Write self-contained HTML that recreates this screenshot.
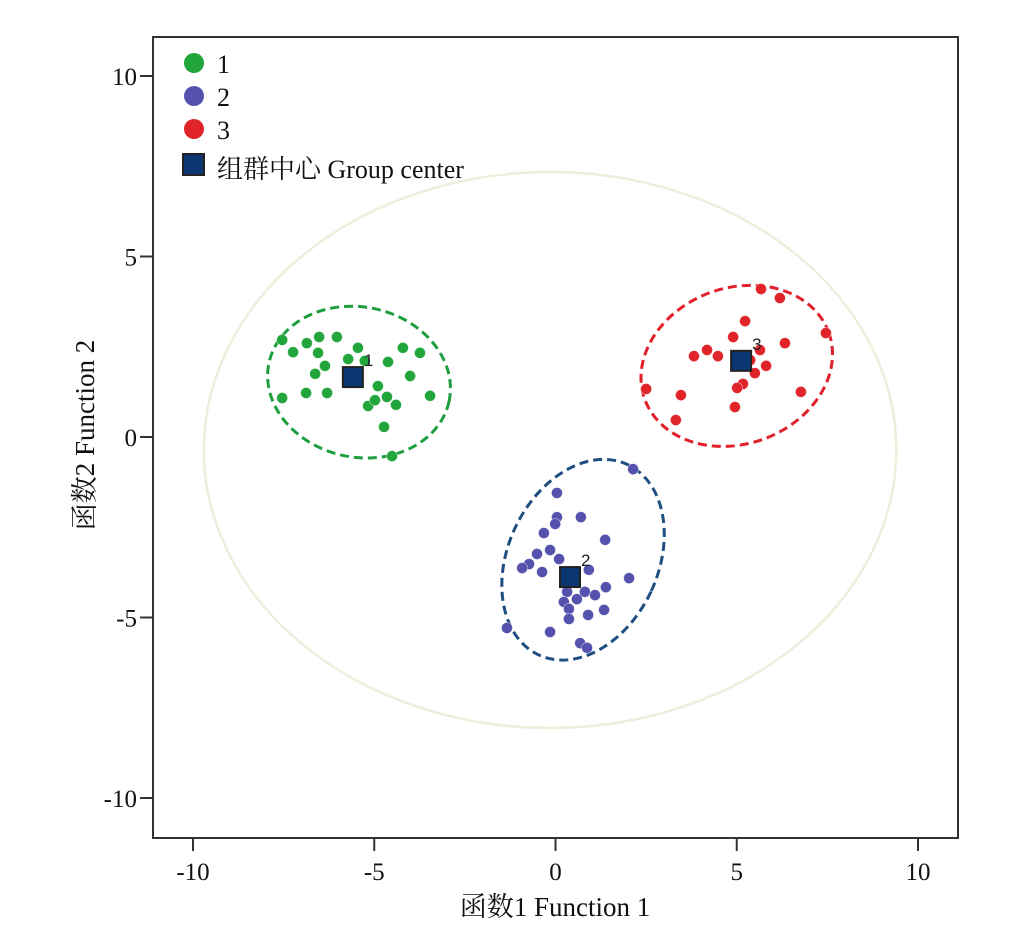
<!DOCTYPE html>
<html><head><meta charset="utf-8"><style>
body{margin:0;background:#fff;position:relative;width:1024px;height:944px;}
#chart{position:absolute;left:0;top:0}
svg text{font-family:"Liberation Serif","Noto Serif CJK SC","Noto Sans CJK SC",serif;fill:#111;}
svg text.sans{font-family:"Liberation Sans",sans-serif;fill:#222;}
</style></head><body>
<svg id="chart" width="1024" height="944" viewBox="0 0 1024 944" xmlns="http://www.w3.org/2000/svg">
<g id="bg"></g>
<g id="ellipses"></g>
<g id="points"></g>
<g id="centers"></g>
<g id="axes"></g>
<g id="legend"></g>
</svg>
<script>
const xTicks=[-10,-5,0,5,10];
const yTicks=[10,5,0,-5,-10];
const g1x=[-7.54,-7.24,-6.86,-6.52,-6.03,-6.55,-6.36,-6.63,-6.88,-6.30,-5.45,-5.72,-5.26,-4.62,-4.21,-3.74,-4.01,-3.46,-4.90,-4.65,-5.17,-4.98,-4.40,-4.73,-4.51,-7.54];
const g1y=[2.69,2.35,2.60,2.77,2.77,2.33,1.97,1.75,1.22,1.22,2.47,2.16,2.11,2.08,2.47,2.33,1.69,1.14,1.41,1.11,0.86,1.02,0.89,0.28,-0.53,1.08];
const g2x=[2.14,0.04,0.04,-0.01,0.70,-0.32,1.37,-0.15,-0.51,-0.73,-0.92,-0.37,0.10,0.92,2.03,0.32,0.81,1.39,1.09,0.59,0.23,0.37,1.34,0.90,0.37,-0.15,-1.34,0.68,0.87];
const g2y=[-0.89,-1.55,-2.22,-2.41,-2.22,-2.66,-2.85,-3.13,-3.24,-3.52,-3.63,-3.74,-3.38,-3.68,-3.91,-4.29,-4.29,-4.16,-4.38,-4.49,-4.57,-4.76,-4.79,-4.93,-5.04,-5.40,-5.29,-5.71,-5.84];
const g3x=[5.67,6.19,5.23,4.90,4.18,3.82,4.48,6.33,5.64,5.81,5.50,5.17,5.01,3.46,6.77,4.95,3.32,2.50,7.46,5.37];
const g3y=[4.10,3.85,3.21,2.77,2.41,2.24,2.24,2.60,2.41,1.97,1.77,1.47,1.36,1.16,1.25,0.83,0.47,1.33,2.88,2.13];
const centerX=[-5.59,0.40,5.12];
const centerY=[1.66,-3.88,2.11];
const centerLabels=["1","2","3"];
const ellCx=[-5.42,0.76,5.0,-0.15];
const ellCy=[1.52,-3.40,1.97,-0.36];
const ellRx=[2.54,2.07,2.70,9.55];
const ellRy=[2.08,2.91,2.16,7.70];
const ellAng=[12,25,-20,0];
const ellColors=["#1e9e3e","#1f4e80","#e0202a","#eeeedd"];
const ptColors=["#22a63c","#5552ad","#e0242a"];

const NS="http://www.w3.org/2000/svg";
function X(v){return 555.5+v*36.25;}
function Y(v){return 437-v*36.1;}
function mk(tag,attrs,parent){const e=document.createElementNS(NS,tag);for(const k in attrs)e.setAttribute(k,attrs[k]);document.getElementById(parent).appendChild(e);return e;}

let fr=mk('rect',{x:153,y:37,width:805,height:801,fill:'none',stroke:'#333','stroke-width':2},'axes');



for(let i=0;i<ellCx.length;i++){
  const cx=X(ellCx[i]),cy=Y(ellCy[i]);
  const e=mk('ellipse',{cx:cx,cy:cy,rx:ellRx[i]*36.25,ry:ellRy[i]*36.1,fill:'none',stroke:ellColors[i],'stroke-width':i==3?2.5:3,'stroke-dasharray':i==3?'none':'9 5',transform:`rotate(${ellAng[i]} ${cx} ${cy})`},i==3?'bg':'ellipses');
  
  
}
const gx=[g1x,g2x,g3x],gy=[g1y,g2y,g3y];
for(let s=0;s<3;s++){
  for(let i=0;i<gx[s].length;i++){
    const c=mk('circle',{cx:X(gx[s][i]),cy:Y(gy[s][i]),r:5.5,fill:ptColors[s],stroke:'#fff','stroke-width':0.6,'stroke-opacity':0.6},'points');
    
    
  }
}
for(let i=0;i<centerX.length;i++){
  const cx=X(centerX[i]),cy=Y(centerY[i]);
  const r=mk('rect',{x:cx-10,y:cy-10,width:20,height:20,fill:'#0b3672',stroke:'#222','stroke-width':2},'centers');
  
  
  const t=mk('text',{x:cx+11,y:cy-11,'font-size':17,'class':'sans'},'centers');
  t.textContent=centerLabels[i];
  
  
}
xTicks.forEach(v=>{
  const l=mk('line',{x1:X(v),x2:X(v),y1:838,y2:851,stroke:'#333','stroke-width':2},'axes');
  
  
  const t=mk('text',{x:X(v),y:880,'font-size':25,'text-anchor':'middle'},'axes');
  t.textContent=v;
  
  
});
yTicks.forEach(v=>{
  const l=mk('line',{x1:140,x2:153,y1:Y(v),y2:Y(v),stroke:'#333','stroke-width':2},'axes');
  
  
  const t=mk('text',{x:137,y:Y(v)+9,'font-size':25,'text-anchor':'end'},'axes');
  t.textContent=v;
  
  
});
</script>
<svg style="position:absolute;left:0;top:0" width="1024" height="944">
<text x="555" y="916" font-size="27" text-anchor="middle">函数1 Function 1</text>
<text x="0" y="0" font-size="27" text-anchor="middle" transform="translate(94 435) rotate(-90)">函数2 Function 2</text>
<g>
<circle cx="194" cy="63" r="10" fill="#22a63c"/>
<text x="217" y="73" font-size="26">1</text>
<circle cx="194" cy="96" r="10" fill="#5552ad"/>
<text x="217" y="106" font-size="26">2</text>
<circle cx="194" cy="129" r="10" fill="#e0242a"/>
<text x="217" y="139" font-size="26">3</text>
<rect x="183" y="154" width="21" height="21" fill="#0b3672" stroke="#222" stroke-width="2"/>
<text x="217" y="178" font-size="26">组群中心 Group center</text>
</g>
</svg>
</body></html>
